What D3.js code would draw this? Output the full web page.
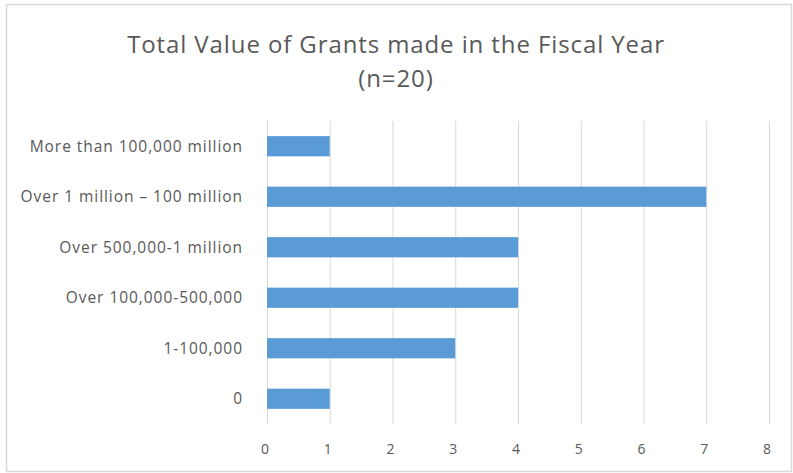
<!DOCTYPE html>
<html><head><meta charset="utf-8">
<script src="https://cdn.jsdelivr.net/npm/d3@7"></script>
<style>body{margin:0;background:#fff}svg{display:block}</style>
</head><body>
<svg id="c" width="793" height="473"></svg>
<script>
const categories = ["More than 100,000 million","Over 1 million – 100 million","Over 500,000-1 million","Over 100,000-500,000","1-100,000","0"];
const values = [1,7,4,4,3,1];
const xTicks = [0,1,2,3,4,5,6,7,8];
const titleLines = ["Total Value of Grants made in the Fiscal Year","(n=20)"];

const svg = d3.select("#c");
const font = "'Open Sans', sans-serif";
svg.append("rect").attr("x",6.5).attr("y",4.5).attr("width",785).attr("height",467)
  .attr("fill","#fff").attr("stroke","#d9d9d9").attr("stroke-width",1.5);

const x = d3.scaleLinear().domain([0,8]).range([267,769]);
const y = d3.scaleBand().domain(categories).range([121,424]).paddingInner(0.6).paddingOuter(0.3);

svg.append("g").selectAll("line").data(xTicks).join("line")
  .attr("x1",d=>x(d)+0.5).attr("x2",d=>x(d)+0.5).attr("y1",121).attr("y2",424)
  .attr("stroke","#d9d9d9").attr("stroke-width",1);

svg.append("g").selectAll("rect").data(values).join("rect")
  .attr("x",x(0)).attr("y",(d,i)=>y(categories[i]))
  .attr("width",d=>x(d)-x(0)).attr("height",y.bandwidth())
  .attr("fill","#5b9bd5");

svg.append("g").selectAll("text").data(categories).join("text")
  .attr("x",243).attr("y",d=>y(d)+y.bandwidth()/2).attr("dy","0.35em")
  .attr("text-anchor","end").attr("font-family",font).attr("font-size",15.5)
  .attr("letter-spacing",0.95)
  .attr("fill","#595959").text(d=>d);

svg.append("g").selectAll("text").data(xTicks).join("text")
  .attr("x",d=>x(d)-2).attr("y",449).attr("dy","0.35em")
  .attr("text-anchor","middle").attr("font-family",font).attr("font-size",14)
  .attr("fill","#595959").text(d=>d);

svg.append("g").selectAll("text").data(titleLines).join("text")
  .attr("x",396).attr("y",(d,i)=>45+i*34).attr("dy","0.35em")
  .attr("text-anchor","middle").attr("font-family",font).attr("font-size",24)
  .attr("letter-spacing",0.9)
  .attr("fill","#595959").text(d=>d);
</script>
</body></html>
